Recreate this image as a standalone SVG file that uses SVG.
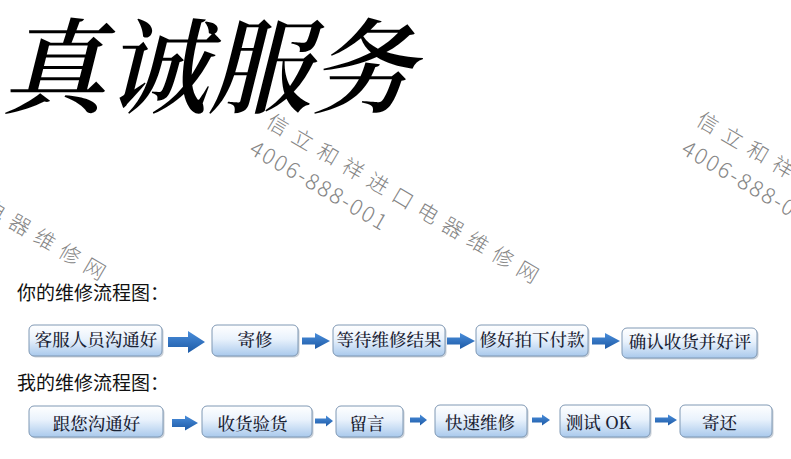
<svg xmlns="http://www.w3.org/2000/svg" width="791" height="459" viewBox="0 0 791 459">
<style>
.wm{font-family:"Noto Sans CJK SC","Noto Sans",sans-serif;font-weight:300;fill:#858585;}
.wmc{font-size:21px;letter-spacing:8px;}
.wmn{font-size:22px;letter-spacing:2px;}
.lbl{font-family:"Noto Sans CJK SC","Noto Sans",sans-serif;font-size:19px;fill:#111;}
.box{fill:url(#bg);stroke:#7f98b4;stroke-width:1;}
.sh{fill:#c9d0d8;}
.bt{font-family:"Noto Serif CJK SC","Noto Sans CJK SC",serif;font-size:17.5px;font-weight:500;fill:#1a2233;}
.arr{fill:url(#ag);}
</style>
<defs>
<linearGradient id="bg" x1="0" y1="0" x2="0" y2="1">
<stop offset="0" stop-color="#ffffff"/>
<stop offset="0.45" stop-color="#e9f2fc"/>
<stop offset="1" stop-color="#a9c9ec"/>
</linearGradient>
<linearGradient id="ag" x1="0" y1="0" x2="0" y2="1">
<stop offset="0" stop-color="#4a8edb"/>
<stop offset="1" stop-color="#1d5aa6"/>
</linearGradient>
</defs>
<rect width="791" height="459" fill="#ffffff"/>

<g id="title">
<text transform="translate(2,105) skewX(-14)" x="0" y="0" font-family="'Noto Serif CJK SC','Noto Sans CJK SC',serif" font-size="103" font-weight="600" fill="#000">真诚服务</text>
</g>

<g id="watermarks">
<g transform="translate(265,126) rotate(30.5)"><text class="wm wmc">信立和祥进口电器维修网</text></g>
<g transform="translate(248,153) rotate(30.3)"><text class="wm wmn">4006-888-001</text></g>
<g transform="translate(695,124) rotate(30.5)"><text class="wm wmc">信立和祥进口电器维修网</text></g>
<g transform="translate(680,153) rotate(30.3)"><text class="wm wmn">4006-888-001</text></g>
<g transform="translate(-168,123) rotate(30.5)"><text class="wm wmc">信立和祥进口电器维修网</text></g>
</g>

<g id="label1"><text class="lbl" x="17" y="300">你的维修流程图：</text></g>
<g id="label2"><text class="lbl" x="17" y="390">我的维修流程图：</text></g>

<g id="connectors">
<path class="arr" d="M168,337 H188 V331 L205,342 L188,353 V347 H168 Z"/>
<path class="arr" d="M302,337.5 H315 V333 L330,341 L315,349 V344.5 H302 Z"/>
<path class="arr" d="M447,337.5 H460 V333 L475,341 L460,349 V344.5 H447 Z"/>
<path class="arr" d="M592,337.5 H605 V333 L620,341 L605,349 V344.5 H592 Z"/>
<path class="arr" d="M172,419 H185 V415.5 L198,423 L185,430.5 V427 H172 Z"/>
<path class="arr" d="M315,418.5 H326 V415.5 L333,421 L326,426.5 V423.5 H315 Z"/>
<path class="arr" d="M410,417.5 H420 V414.5 L427,420 L420,425.5 V422.5 H410 Z"/>
<path class="arr" d="M532,417.5 H542 V414.5 L550,420 L542,425.5 V422.5 H532 Z"/>
<path class="arr" d="M655,417.5 H668 V414.5 L677,420 L668,425.5 V422.5 H655 Z"/>
</g>

<g id="n1"><rect class="sh" x="30.5" y="326.5" width="133" height="31" rx="5"/><rect class="box" x="29" y="325" width="133" height="31" rx="5"/><text class="bt" x="96" y="346" text-anchor="middle">客服人员沟通好</text></g>
<g id="n2"><rect class="sh" x="213.5" y="326.5" width="86" height="31" rx="5"/><rect class="box" x="212" y="325" width="86" height="31" rx="5"/><text class="bt" x="255" y="346" text-anchor="middle">寄修</text></g>
<g id="n3"><rect class="sh" x="334.5" y="326.5" width="112" height="31" rx="5"/><rect class="box" x="333" y="325" width="112" height="31" rx="5"/><text class="bt" x="389" y="346" text-anchor="middle">等待维修结果</text></g>
<g id="n4"><rect class="sh" x="477.5" y="326.5" width="112" height="31" rx="5"/><rect class="box" x="476" y="325" width="112" height="31" rx="5"/><text class="bt" x="532" y="346" text-anchor="middle">修好拍下付款</text></g>
<g id="n5"><rect class="sh" x="623.5" y="329.5" width="135" height="30" rx="5"/><rect class="box" x="622" y="328" width="135" height="30" rx="5"/><text class="bt" x="690" y="348" text-anchor="middle">确认收货并好评</text></g>

<g id="m1"><rect class="sh" x="30.5" y="407.5" width="134" height="31" rx="5"/><rect class="box" x="29" y="406" width="134" height="31" rx="5"/><text class="bt" x="96.5" y="430" text-anchor="middle">跟您沟通好</text></g>
<g id="m2"><rect class="sh" x="203.5" y="407.5" width="110" height="31" rx="5"/><rect class="box" x="202" y="406" width="110" height="31" rx="5"/><text class="bt" x="252.5" y="430" text-anchor="middle">收货验货</text></g>
<g id="m3"><rect class="sh" x="337.5" y="407.5" width="67" height="31" rx="5"/><rect class="box" x="336" y="406" width="67" height="31" rx="5"/><text class="bt" x="367" y="430" text-anchor="middle">留言</text></g>
<g id="m4"><rect class="sh" x="436.5" y="406.5" width="92" height="32" rx="5"/><rect class="box" x="435" y="405" width="92" height="32" rx="5"/><text class="bt" x="480" y="429" text-anchor="middle">快速维修</text></g>
<g id="m5"><rect class="sh" x="561.5" y="406.5" width="90" height="32" rx="5"/><rect class="box" x="560" y="405" width="90" height="32" rx="5"/><text class="bt" x="598.5" y="429" text-anchor="middle">测试 OK</text></g>
<g id="m6"><rect class="sh" x="681.5" y="406.5" width="92" height="32" rx="5"/><rect class="box" x="680" y="405" width="92" height="32" rx="5"/><text class="bt" x="719.5" y="429" text-anchor="middle">寄还</text></g>
</svg>
